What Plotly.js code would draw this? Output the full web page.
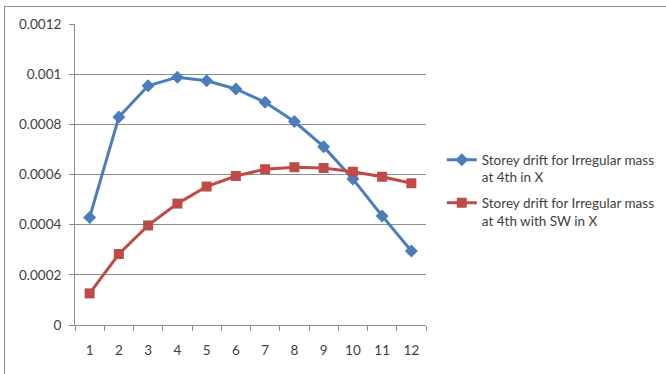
<!DOCTYPE html>
<html>
<head>
<meta charset="utf-8">
<script src="https://cdn.plot.ly/plotly-3.0.1.min.js"></script>
<style>
  html, body { margin: 0; padding: 0; background: #fff; overflow: hidden; }
  #wrap { position: relative; width: 666px; height: 374px; }
  #frame { position: absolute; left: 4px; top: 6px; width: 700px; height: 400px;
           border: 1px solid #8c8c8c; box-sizing: border-box; pointer-events: none; }
  #chart { position: absolute; left: 0; top: 0; width: 666px; height: 374px; }
</style>
</head>
<body>
<div id="wrap">
  <div id="chart"></div>
  <div id="frame"></div>
</div>
<script>
// Storey numbers
const storeys = ['1', '2', '3', '4', '5', '6', '7', '8', '9', '10', '11', '12'];

// Storey drift, irregular mass at 4th storey, X direction
const driftIrregular = [0.000429, 0.000829, 0.000954, 0.000988, 0.000974, 0.000941,
                        0.000888, 0.000811, 0.000711, 0.000582, 0.000435, 0.000295];

// Storey drift, irregular mass at 4th storey with shear wall, X direction
const driftWithSW = [0.000126, 0.000283, 0.000397, 0.000484, 0.000552, 0.000594,
                     0.000621, 0.000629, 0.000626, 0.000611, 0.000591, 0.000565];

const yTickVals = [0, 0.0002, 0.0004, 0.0006, 0.0008, 0.001, 0.0012];
const yTickText = ['0', '0.0002', '0.0004', '0.0006', '0.0008', '0.001', '0.0012'];

const traces = [
  {
    x: storeys, y: driftIrregular, type: 'scatter', mode: 'lines+markers',
    name: 'Storey drift for Irregular mass<br>at 4th in X', legendgroup: 'irregular',
    line: { color: '#4A7EBB', width: 3 },
    marker: { symbol: 'diamond', size: 10, color: '#4A7EBB' }
  },
  {
    x: storeys, y: driftWithSW, type: 'scatter', mode: 'lines+markers',
    name: 'Storey drift for Irregular mass<br>at 4th with SW in X', legendgroup: 'withSW',
    line: { color: '#BE4B48', width: 3 },
    marker: { symbol: 'square', size: 10, color: '#BE4B48' }
  }
];

const layout = {
  width: 666, height: 374,
  margin: { l: 75, r: 240, t: 24, b: 49, autoexpand: false },
  paper_bgcolor: '#ffffff', plot_bgcolor: '#ffffff',
  font: { family: 'Lato, Liberation Sans, sans-serif', size: 13.5, color: '#404040' },
  showlegend: true,
  legend: {
    x: 1.045, y: 0.6, xanchor: 'left', yanchor: 'top',
    valign: 'top', traceorder: 'grouped', tracegroupgap: 5,
    font: { size: 13.5, color: '#404040' }
  },
  xaxis: {
    type: 'category', tickson: 'boundaries', range: [-0.5, 11.5],
    ticks: 'outside', ticklen: 5, tickcolor: '#8c8c8c', ticklabelstandoff: 13,
    showline: true, linecolor: '#8c8c8c', linewidth: 1,
    showgrid: false, zeroline: false, fixedrange: true
  },
  yaxis: {
    range: [0, 0.0012], tickvals: yTickVals, ticktext: yTickText,
    ticks: 'outside', ticklen: 5, tickcolor: '#8c8c8c', ticklabelstandoff: 5,
    showline: true, linecolor: '#8c8c8c', linewidth: 1,
    showgrid: true, gridcolor: '#8c8c8c', gridwidth: 1,
    zeroline: false, fixedrange: true
  }
};

Plotly.newPlot('chart', traces, layout, { displayModeBar: false, staticPlot: true });
</script>
</body>
</html>
